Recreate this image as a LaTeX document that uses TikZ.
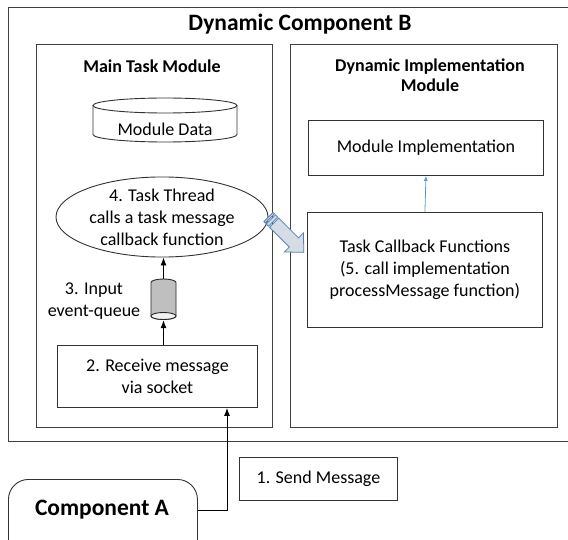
\documentclass[tikz,border=0pt]{standalone}
\usepackage{fontspec}
\setmainfont{Carlito}
\usetikzlibrary{shapes.geometric,arrows.meta}

\newcommand\bodyfont{\fontsize{18}{22}\selectfont}
\newcommand\headfont{\fontsize{18}{20}\selectfont\bfseries}
\newcommand\bigfont{\fontsize{23.5}{26}\selectfont\bfseries}

\definecolor{lineblue}{RGB}{91,155,213}
\definecolor{arrowfill}{RGB}{214,220,228}
\definecolor{arrowedge}{RGB}{84,130,180}
\definecolor{queuegray}{RGB}{191,191,191}

\begin{document}
\begin{tikzpicture}[x=1pt,y=-1pt,
  frame/.style={draw=black!75, line width=0.9pt, rectangle, inner sep=0pt},
  box/.style={draw=black!80, line width=0.9pt, rectangle, inner sep=0pt,
              align=center, font=\bodyfont},
  label/.style={align=center, font=\bodyfont, inner sep=0pt},
  arr/.style={draw=black, line width=0.9pt, -{Latex[length=8pt,width=6pt]}},
  bluearr/.style={draw=lineblue, line width=0.8pt, -{Latex[length=5pt,width=4pt]}},
  blockarrow/.style={fill=arrowfill, draw=arrowedge, line width=0.8pt, line join=miter}]

\path[use as bounding box, clip] (0,0) rectangle (568,540);

% outer component frame (runs past the right edge)
\node[frame, minimum width=592, minimum height=434, anchor=north west] (compB) at (8,7) {};
\node[font=\bigfont, inner sep=0pt] (compBT) at (300,24) {Dynamic Component B};

% the two modules
\node[frame, minimum width=236, minimum height=383, anchor=north west] (main) at (36,44) {};
\node[font=\headfont, inner sep=0pt] (mainT) at (152,66) {Main Task Module};
\node[frame, minimum width=267, minimum height=383, anchor=north west] (dyn) at (290,44) {};
\node[font=\headfont, align=center, inner sep=0pt] (dynT) at (430,75) {Dynamic Implementation\\Module};

% module data store
\draw[line width=0.9pt, draw=black!80] (93,105.5) -- (93,134.5)
  arc[start angle=180, end angle=360, x radius=72pt, y radius=7.5pt] -- (237,105.5);
\draw[line width=0.9pt, draw=black!80] (165,105.5) ellipse[x radius=72pt, y radius=7.5pt];
\node[label] (mdata) at (165,129) {Module Data};

% task thread
\node[ellipse, draw=black!80, line width=0.9pt, minimum width=212, minimum height=76,
      inner sep=0pt, align=center, font=\bodyfont] (thread) at (162,217) {4. Task Thread\\calls a task message\\callback function};

% input event queue
\node[minimum width=25, minimum height=41, inner sep=0pt] (queue) at (163.5,299.5) {};
\filldraw[fill=queuegray, draw=black!85, line width=0.9pt] (151,282.5)
  arc[start angle=180, end angle=0, x radius=12.5pt, y radius=3.5pt] -- (176,316)
  arc[start angle=0, end angle=-180, x radius=12.5pt, y radius=3.5pt] -- cycle;
\filldraw[fill=black!6, draw=black!85, line width=0.9pt] (163.5,316) ellipse[x radius=12.5pt, y radius=3.5pt];
\node[label] (queueT) at (94,301) {3. Input\\event-queue};

% receive box
\node[box, minimum width=200, minimum height=62, anchor=north west] (recv) at (57,345) {2. Receive message\\via socket};

\draw[arr] (recv.north -| queue) -- (queue.south);
\draw[arr] (queue.north) -- (queue.north |- thread.south);

% implementation side
\node[box, minimum width=235, minimum height=55, anchor=north west] (impl) at (308,120) {Module Implementation};
\node[box, minimum width=235, minimum height=115, anchor=north west] (cb) at (307,212)
  {Task Callback Functions\\(5. call implementation\\processMessage function)};
\draw[bluearr] (cb.north) -- (impl.south);

% striped block arrow from the thread to the callbacks
\begin{scope}[shift={(thread.east)}, rotate=-45]
  \path[blockarrow] (0,-6.5) rectangle (2,6.5);
  \path[blockarrow] (3.5,-6.5) rectangle (6.5,6.5);
  \path[blockarrow] (8,-6.5) -- (36,-6.5) -- (36,-13.5) -- (50,0) -- (36,13.5) -- (36,6.5) -- (8,6.5) -- cycle;
\end{scope}

% sender side
\node[draw=black!80, line width=0.9pt, rounded corners=20pt, minimum width=189, minimum height=90,
      anchor=north west, inner sep=0pt] (compA) at (8,479) {};
\node[font=\bigfont, inner sep=0pt] (compAT) at (102,510) {Component A};
\node[box, minimum width=158, minimum height=43, anchor=north west] (send) at (239,457) {1. Send Message};

\coordinate (bend) at (227,510);
\draw[arr] (compAT -| compA.east) -| (bend |- recv.south);

\end{tikzpicture}
\end{document}
